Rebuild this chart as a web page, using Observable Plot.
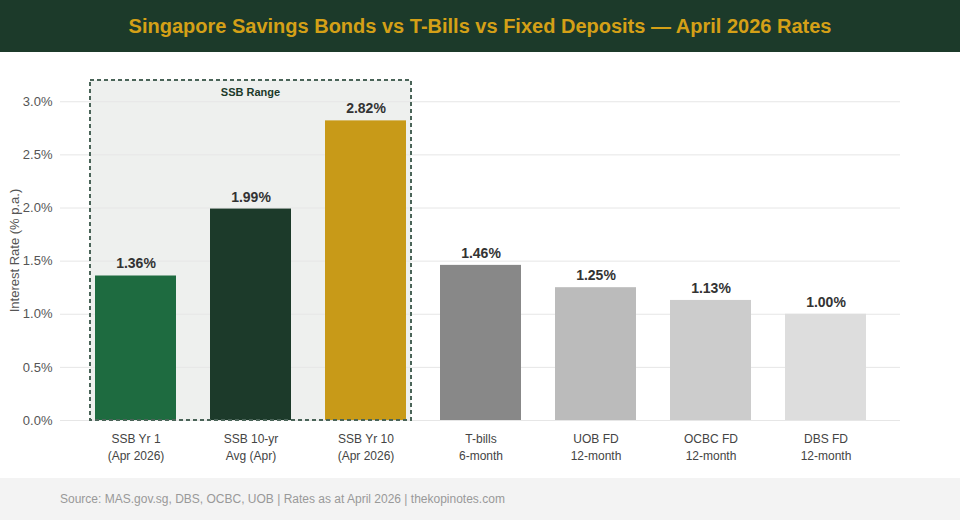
<!DOCTYPE html>
<html>
<head>
<meta charset="utf-8">
<script src="https://cdn.jsdelivr.net/npm/d3@7"></script>
<script src="https://cdn.jsdelivr.net/npm/@observablehq/plot@0.6"></script>
<style>
  html, body { margin: 0; padding: 0; background: #fff; }
  body { width: 960px; height: 520px; overflow: hidden; font-family: "Liberation Sans", Arial, sans-serif; }
  #title { height: 52px; background: #1c3a2a; color: #d4a017; font-weight: bold; font-size: 20px;
           display: flex; align-items: center; justify-content: center; }
  #chart { height: 426px; }
  #footer { height: 42px; background: #f3f3f3; color: #999; font-size: 12px; box-sizing: border-box;
            padding-left: 60px; display: flex; align-items: center; }
</style>
</head>
<body>
<div id="title">Singapore Savings Bonds vs T-Bills vs Fixed Deposits — April 2026 Rates</div>
<div id="chart"></div>
<div id="footer">Source: MAS.gov.sg, DBS, OCBC, UOB | Rates as at April 2026 | thekopinotes.com</div>
<script>
const categories = ["SSB Yr 1", "SSB 10-yr", "SSB Yr 10", "T-bills", "UOB FD", "OCBC FD", "DBS FD"];
const subLabels = ["(Apr 2026)", "Avg (Apr)", "(Apr 2026)", "6-month", "12-month", "12-month", "12-month"];
const rates = [1.36, 1.99, 2.82, 1.46, 1.25, 1.13, 1.00];
const colors = ["#1e6b40", "#1c3a2a", "#c89a18", "#888888", "#bbbbbb", "#cccccc", "#dddddd"];
const yTicks = [0, 0.5, 1.0, 1.5, 2.0, 2.5, 3.0];
const ssbGroup = ["SSB Yr 1", "SSB Yr 10"];
const ssbLabel = "SSB Range";
const yMax = 3.2;

const data = categories.map((c, i) => ({cat: c, sub: subLabels[i], rate: rates[i], color: colors[i]}));

function boxGeom(scales) {
  const xs = scales.x;
  const bw = typeof xs.bandwidth === "function" ? xs.bandwidth()
           : (scales.scales && scales.scales.x ? scales.scales.x.bandwidth : 0);
  const x0 = xs(ssbGroup[0]) - 5;
  const x1 = xs(ssbGroup[1]) + bw + 5;
  return {x0, x1, yTop: scales.y(yMax), yBot: scales.y(0)};
}

const ssbFill = (index, scales) => {
  const {x0, x1, yTop, yBot} = boxGeom(scales);
  const g = d3.create("svg:g");
  g.append("rect").attr("x", x0).attr("y", yTop).attr("width", x1 - x0).attr("height", yBot - yTop)
    .attr("fill", "#eef0ee");
  return g.node();
};

const ssbBorder = (index, scales) => {
  const {x0, x1, yTop, yBot} = boxGeom(scales);
  const g = d3.create("svg:g");
  g.append("rect").attr("x", x0).attr("y", yTop).attr("width", x1 - x0).attr("height", yBot - yTop)
    .attr("fill", "none").attr("stroke", "#4a6458").attr("stroke-width", 2).attr("stroke-dasharray", "4,3");
  g.append("text").attr("x", (x0 + x1) / 2).attr("y", yTop + 16).attr("text-anchor", "middle")
    .attr("font-size", 11).attr("font-weight", "bold").attr("fill", "#1c3a2a").text(ssbLabel);
  return g.node();
};

const chart = Plot.plot({
  width: 960,
  height: 426,
  marginLeft: 60,
  marginRight: 60,
  marginTop: 28,
  marginBottom: 58,
  style: {fontFamily: "Liberation Sans, Arial, sans-serif", fontSize: "12px", background: "transparent"},
  x: {domain: categories, padding: 0.3},
  y: {domain: [0, yMax]},
  marks: [
    ssbFill,
    Plot.gridY(yTicks, {stroke: "#e6e6e6", strokeOpacity: 1}),
    Plot.barY(data, {x: "cat", y: "rate", fill: "color"}),
    ssbBorder,
    Plot.text(data, {x: "cat", y: "rate", text: d => d.rate.toFixed(2) + "%", dy: -12,
      fontSize: 14, fontWeight: "bold", fill: "#333"}),
    Plot.axisY(yTicks, {tickSize: 0, tickPadding: 8, tickFormat: d => d.toFixed(1) + "%",
      fill: "#555", fontSize: 13, label: null}),
    Plot.text(["Interest Rate (% p.a.)"], {frameAnchor: "left", textAnchor: "middle", dx: -46, rotate: -90,
      fill: "#555", fontSize: 13}),
    Plot.axisX({tickSize: 0, tickPadding: 11, label: null, fill: "#444", fontSize: 12, lineHeight: 1.4,
      tickFormat: (d, i) => d + "\n" + subLabels[categories.indexOf(d)]})
  ]
});
document.getElementById("chart").appendChild(chart);
</script>
</body>
</html>
